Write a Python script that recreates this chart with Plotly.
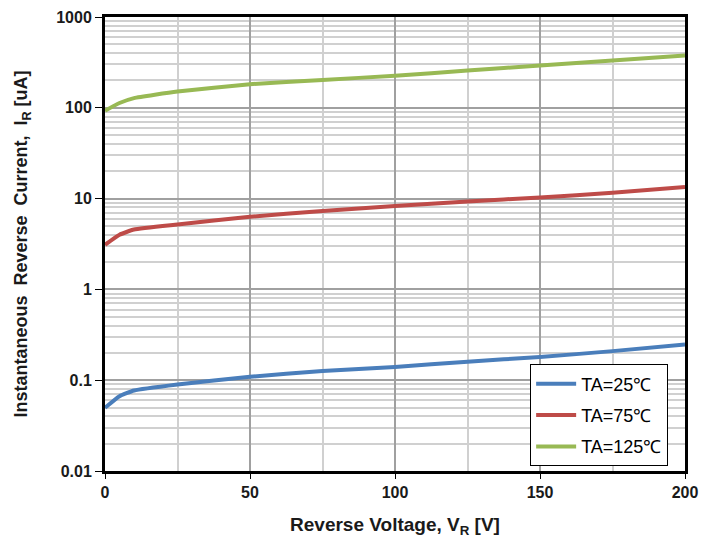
import plotly.graph_objects as go

vr = [0, 5, 10, 25, 50, 75, 100, 125, 150, 175, 200]
ir_25 = [0.0497, 0.0667, 0.077, 0.0897, 0.109, 0.126, 0.140, 0.160, 0.180, 0.209, 0.247]
ir_75 = [3.1, 4.0, 4.56, 5.18, 6.3, 7.3, 8.3, 9.3, 10.3, 11.6, 13.4]
ir_125 = [93, 113, 128, 151, 182, 203, 225, 257, 293, 332, 377]

names = ["TA=25℃", "TA=75℃", "TA=125℃"]
colors = ["#4a7ebb", "#be4b48", "#98b954"]
series = [ir_25, ir_75, ir_125]

fig = go.Figure()
for n, c, s in zip(names, colors, series):
    fig.add_trace(go.Scatter(x=vr, y=s, mode="lines", name=n, legendgroup=n,
                             line=dict(color=c, width=4, shape="spline", smoothing=0.4)))

tickfont = dict(family="Liberation Sans, Arial", size=16, color="#1a1a1a")
fig.update_layout(
    width=707, height=537,
    margin=dict(l=97, r=30, t=9, b=74),
    paper_bgcolor="white", plot_bgcolor="white",
    font=dict(family="Liberation Sans, Arial", color="#1a1a1a"),
    xaxis=dict(range=[0, 200], automargin=False,
               tickvals=[0, 50, 100, 150, 200],
               ticktext=["<b>0</b>", "<b>50</b>", "<b>100</b>", "<b>150</b>", "<b>200</b>"],
               showline=True, linecolor="black", linewidth=3, mirror=True,
               ticks="outside", ticklen=5, tickcolor="black", tickwidth=1,
               showgrid=True, gridcolor="#a0a0a0", gridwidth=1.5,
               minor=dict(dtick=25, tick0=0, showgrid=True, gridcolor="#d0d0d0", gridwidth=1.5),
               zeroline=False,
               tickfont=tickfont,
               title=dict(text="<b>Reverse Voltage, V<sub>R</sub> [V]</b>",
                          font=dict(family="Liberation Sans, Arial", size=19),
                          standoff=18)),
    yaxis=dict(type="log", range=[-2, 3], automargin=False,
               tickvals=[0.01, 0.1, 1, 10, 100, 1000],
               ticktext=["<b>0.01</b>", "<b>0.1</b>", "<b>1</b>", "<b>10</b>", "<b>100</b>", "<b>1000</b>"],
               showline=True, linecolor="black", linewidth=3, mirror=True,
               ticks="outside", ticklen=7, tickcolor="black", tickwidth=1,
               showgrid=True, gridcolor="#a0a0a0", gridwidth=1.5,
               minor=dict(dtick="D1", showgrid=True, gridcolor="#d0d0d0", gridwidth=1.5, ticks=""),
               zeroline=False,
               tickfont=tickfont,
               title=dict(text="<b>Instantaneous  Reverse  Current,  I<sub>R</sub> [uA]</b>",
                          font=dict(family="Liberation Sans, Arial", size=18),
                          standoff=24)),
    legend=dict(x=0.733, y=0.01, xanchor="left", yanchor="bottom",
                bordercolor="black", borderwidth=1, bgcolor="white",
                font=dict(family="Liberation Sans, Arial", size=18, color="black"),
                itemwidth=40, tracegroupgap=5),
)

fig.write_html("out.html")
